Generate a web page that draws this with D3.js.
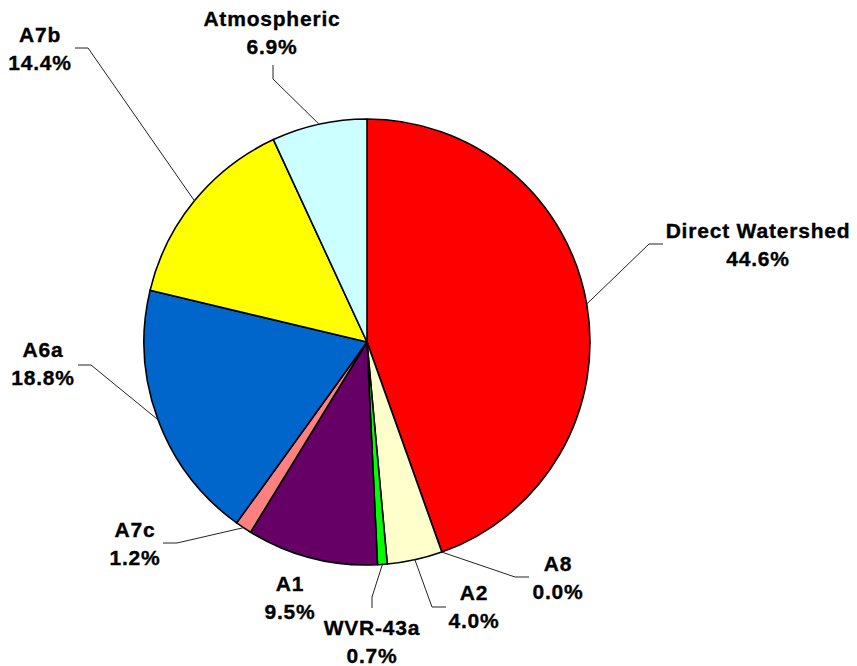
<!DOCTYPE html>
<html>
<head>
<meta charset="utf-8">
<script src="https://cdn.jsdelivr.net/npm/d3@7/dist/d3.min.js"></script>
<style>
  html, body { margin: 0; padding: 0; background: #fff; }
  svg { display: block; }
  text { font-family: "Liberation Sans", Arial, sans-serif; font-weight: bold; font-size: 21px; letter-spacing: 0.8px; fill: #000; stroke: #000; stroke-width: 0.35px; }
</style>
</head>
<body>
<svg id="chart" width="857" height="666"></svg>
<script>
// Load sources (share of total, %), clockwise from 12 o'clock
const sources = ["Direct Watershed", "A8", "A2", "WVR-43a", "A1", "A7c", "A6a", "A7b", "Atmospheric"];
const shares  = [44.6, 0.0, 4.0, 0.7, 9.5, 1.2, 18.8, 14.4, 6.9];
const colors  = ["#FF0000", "#FFFFFF", "#FFFFCC", "#00FF00", "#660066", "#FF8080", "#0066CC", "#FFFF00", "#CCFFFF"];

// Label placement: text centre x, first baseline y, and leader path (elbow, end)
const labelLayout = [
  { x: 758, y: 238, leader: [[649, 244], [663, 244]] },
  { x: 558, y: 571, leader: [[515, 577], [529, 577]] },
  { x: 474, y: 600, leader: [[432, 607], [446, 607]] },
  { x: 372, y: 635, leader: [[372, 597], [372, 608]] },
  { x: 290, y: 591, leader: null },
  { x: 135, y: 537, leader: [[177, 543], [163, 543]] },
  { x: 43,  y: 357, leader: [[91, 365], [78, 365]] },
  { x: 40,  y: 42,  leader: [[88, 48], [75, 48]] },
  { x: 272, y: 26,  leader: [[273, 79], [273, 65]] }
];

const cx = 367, cy = 342, radius = 223;
const svg = d3.select("#chart");
const g = svg.append("g").attr("transform", `translate(${cx},${cy})`);

const pie = d3.pie().sort(null).value(d => d.value);
const arcs = pie(sources.map((name, i) => ({ name, value: shares[i], color: colors[i], layout: labelLayout[i] })));

const arc = d3.arc().innerRadius(0).outerRadius(radius);

g.selectAll("path.slice")
  .data(arcs)
  .join("path")
  .attr("class", "slice")
  .attr("d", arc)
  .attr("fill", d => d.data.color)
  .attr("stroke", "#000")
  .attr("stroke-width", 1.6)
  .attr("stroke-linejoin", "round");

// Leader lines start on the rim at each slice's mid angle
const rimPoint = d => {
  const a = (d.startAngle + d.endAngle) / 2;
  return [cx + radius * Math.sin(a), cy - radius * Math.cos(a)];
};

svg.selectAll("path.leader")
  .data(arcs.filter(d => d.data.layout.leader))
  .join("path")
  .attr("class", "leader")
  .attr("d", d => d3.line()([rimPoint(d), ...d.data.layout.leader]))
  .attr("fill", "none")
  .attr("stroke", "#222")
  .attr("stroke-width", 1);

const fmt = d3.format(".1f");
const labels = svg.selectAll("text.label")
  .data(arcs)
  .join("text")
  .attr("class", "label")
  .attr("text-anchor", "middle");

labels.append("tspan")
  .attr("x", d => d.data.layout.x)
  .attr("y", d => d.data.layout.y)
  .text(d => d.data.name);

labels.append("tspan")
  .attr("x", d => d.data.layout.x)
  .attr("y", d => d.data.layout.y + 28)
  .text(d => fmt(d.data.value) + "%");
</script>
</body>
</html>
